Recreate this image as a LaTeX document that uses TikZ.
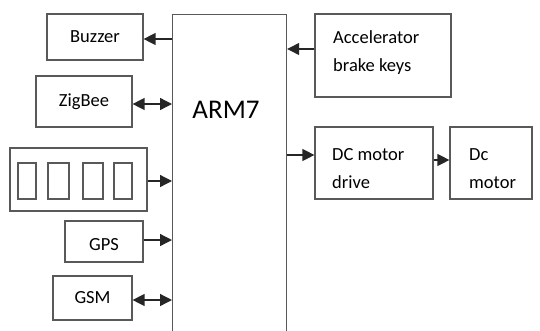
\documentclass[tikz,border=0pt]{standalone}
\usepackage{fontspec}
\setmainfont{Carlito}
\usetikzlibrary{arrows.meta}
\begin{document}
\begin{tikzpicture}[x=1pt,y=-1pt,
  box/.style={draw=black!65,line width=1.2pt,inner sep=0pt,font=\fontsize{18.5}{28}\selectfont},
  lbl/.style={inner sep=0pt,font=\fontsize{18.5}{28}\selectfont,align=left,anchor=west},
  cell/.style={draw=black!65,line width=1.2pt,inner sep=0pt},
  conn/.style={draw=black!85,line width=1.3pt,-{Triangle[length=12pt,width=12pt]}},
  biconn/.style={draw=black!85,line width=1.3pt,{Triangle[length=12pt,width=12pt]}-{Triangle[length=12pt,width=12pt]}}]
\useasboundingbox (0,0) rectangle (540,330);
% ARM7 (open at bottom, extends past the edge)
\node[draw=black!65,line width=1.2pt,inner sep=0pt,minimum width=114pt,minimum height=330pt,anchor=north west] (arm) at (172,14) {};
\node[font=\fontsize{27}{30}\selectfont,anchor=center] (armt) at (226,110) {ARM7};
% left side
\node[box,minimum width=96pt,minimum height=46pt] (buzzer) at (95,37) {Buzzer};
\node[box,minimum width=96pt,minimum height=51pt] (zigbee) at (84,101.5) {ZigBee};
\node[cell,minimum width=137pt,minimum height=63pt] (disp) at (78.5,179.5) {};
\node[cell,minimum width=18pt,minimum height=36pt] (c1) at (27,181) {};
\node[cell,minimum width=21pt,minimum height=36pt] (c2) at (58.5,181) {};
\node[cell,minimum width=20pt,minimum height=36pt] (c3) at (93,181) {};
\node[cell,minimum width=18pt,minimum height=36pt] (c4) at (123,181) {};
\node[box,minimum width=78pt,minimum height=41pt] (gps) at (104,241.5) {};
\node[lbl,anchor=center] (gpst) at (104,245) {GPS};
\node[box,minimum width=79pt,minimum height=44pt] (gsm) at (92.5,298) {GSM};
% right side
\node[box,minimum width=136pt,minimum height=83pt] (acc) at (383,55.5) {};
\node[lbl] (acct) at (333,53) {Accelerator\\brake keys};
\node[box,minimum width=118pt,minimum height=72pt] (drv) at (374,163) {};
\node[lbl] (drvt) at (332,168.5) {DC motor\\drive};
\node[box,minimum width=82pt,minimum height=72pt] (mot) at (491,163) {};
\node[lbl] (mott) at (469,168.5) {Dc\\motor};
% connectors
\draw[conn] (arm.west |- 0,39) -- (buzzer.east |- 0,39);
\draw[biconn] (zigbee.east |- 0,104) -- (arm.west |- 0,104);
\draw[conn] (disp.east |- 0,181) -- (arm.west |- 0,181);
\draw[conn] (gps.east |- 0,240) -- (arm.west |- 0,240);
\draw[biconn] (gsm.east |- 0,300) -- (arm.west |- 0,300);
\draw[conn] (acc.west |- 0,49) -- (arm.east |- 0,49);
\draw[conn] (arm.east |- 0,155) -- (drv.west |- 0,155);
\draw[conn] (drv.east |- 0,160) -- (mot.west |- 0,160);
\end{tikzpicture}
\end{document}
